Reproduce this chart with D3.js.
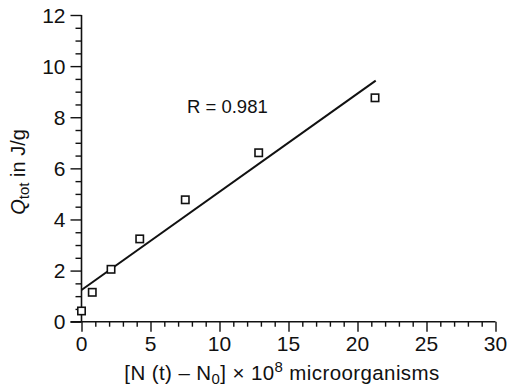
<!DOCTYPE html>
<html><head><meta charset="utf-8">
<script src="https://cdn.jsdelivr.net/npm/d3@7"></script>
<style>body{margin:0;background:#fff}svg{display:block}text{font-family:"Liberation Sans",Arial,sans-serif;fill:#111}</style>
</head><body><svg id="c" width="511" height="389"></svg>
<script>
const xValues = [0, 0.78, 2.14, 4.22, 7.52, 12.84, 21.27];
const yValues = [0.42, 1.15, 2.05, 3.24, 4.77, 6.61, 8.76];
const fitX = [0, 21.32];
const fitY = [1.24, 9.43];
const xTicks = [0, 5, 10, 15, 20, 25, 30];
const yTicks = [0, 2, 4, 6, 8, 10, 12];
const rLabel = "R = 0.981";

const svg = d3.select("#c");
const x = d3.scaleLinear().domain([0, 30]).range([81.5, 495.5]);
const y = d3.scaleLinear().domain([0, 12]).range([321.7, 15]);

// x axis
const gx = svg.append("g").attr("transform", `translate(0,${y(0)})`);
gx.call(d3.axisBottom(x).tickValues(d3.range(0, 31, 1)).tickSize(5).tickFormat(""));
gx.selectAll(".tick line").attr("stroke", "#111").attr("stroke-width", 1.4);
gx.selectAll(".tick").filter(d => d % 5 === 0).select("line").attr("y2", 10);
gx.select(".domain").attr("stroke", "#111").attr("stroke-width", 1.6).attr("d", `M${x(0)-11},0H${x(30)}`);
svg.selectAll(".xlbl").data(xTicks).enter().append("text").attr("class", "xlbl")
  .attr("x", d => x(d)).attr("y", 351).attr("text-anchor", "middle")
  .attr("font-size", 21).text(d => d);

// y axis
const gy = svg.append("g").attr("transform", `translate(${x(0)},0)`);
gy.call(d3.axisLeft(y).tickValues(d3.range(0, 12.01, 0.5)).tickSize(6).tickFormat(""));
gy.selectAll(".tick line").attr("stroke", "#111").attr("stroke-width", 1.4);
gy.selectAll(".tick").filter(d => Math.abs(d % 2) < 1e-9).select("line").attr("x2", -11);
gy.select(".domain").attr("stroke", "#111").attr("stroke-width", 1.6).attr("d", `M0,${y(12)}V${y(0)}`);
svg.selectAll(".ylbl").data(yTicks).enter().append("text").attr("class", "ylbl")
  .attr("x", x(0) - 16).attr("y", d => y(d)).attr("dy", "0.36em").attr("text-anchor", "end")
  .attr("font-size", 21).text(d => d);

// fit line
svg.append("line")
  .attr("x1", x(fitX[0])).attr("y1", y(fitY[0]))
  .attr("x2", x(fitX[1])).attr("y2", y(fitY[1]))
  .attr("stroke", "#111").attr("stroke-width", 2);

// points
const pts = xValues.map((v, i) => [v, yValues[i]]);
svg.selectAll(".pt").data(pts).enter().append("rect")
  .attr("x", d => x(d[0]) - 3.7).attr("y", d => y(d[1]) - 3.7)
  .attr("width", 7.4).attr("height", 7.4)
  .attr("fill", "#fff").attr("stroke", "#111").attr("stroke-width", 1.6);

// R label
svg.append("text").attr("x", 187).attr("y", 113).attr("font-size", 18.5).text(rLabel);

// x title
const xt = svg.append("text").attr("x", 282).attr("y", 380).attr("text-anchor", "middle")
  .attr("font-size", 20.5).attr("letter-spacing", 0.4);
xt.append("tspan").text("[N (t) \u2013 N");
xt.append("tspan").attr("font-size", 15).attr("dy", 4).text("0");
xt.append("tspan").attr("dy", -4).text("] \u00d7 10");
xt.append("tspan").attr("font-size", 15).attr("dy", -8).text("8");
xt.append("tspan").attr("dy", 8).text(" microorganisms");

// y title
const yt = svg.append("text").attr("transform", "translate(25,172) rotate(-90)").attr("text-anchor", "middle").attr("font-size", 20);
yt.append("tspan").attr("font-style", "italic").text("Q");
yt.append("tspan").attr("font-size", 15).attr("dy", 4).text("tot");
yt.append("tspan").attr("dy", -4).text(" in J/g");
</script></body></html>
